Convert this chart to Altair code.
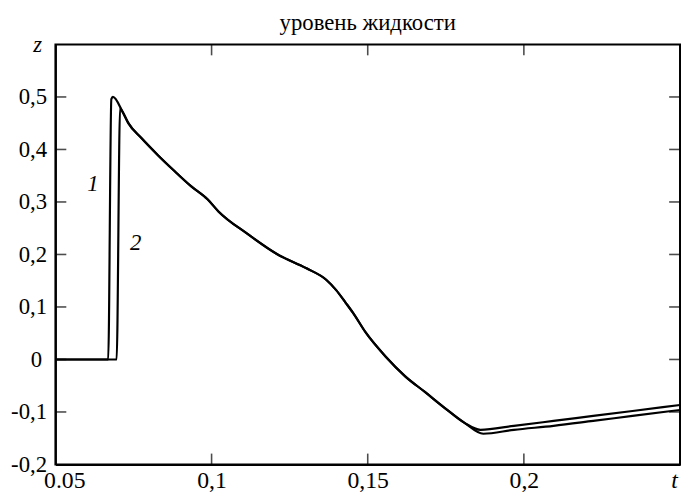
import altair as alt
import pandas as pd

# ---- data ----
t1 = [0.05, 0.0669, 0.0679, 0.0684, 0.0715, 0.0734, 0.0776, 0.0829, 0.0882, 0.0934,
      0.0987, 0.1022, 0.1114, 0.1209, 0.1304, 0.1367, 0.1399, 0.1430, 0.1453, 0.1494,
      0.1557, 0.1620, 0.1684, 0.1747, 0.1810, 0.1861, 0.1968, 0.2095, 0.2222, 0.2348, 0.2500]
z1 = [0.0, 0.0, 0.496, 0.500, 0.4717, 0.4496, 0.4213, 0.3887, 0.3585, 0.3302,
      0.3051, 0.2820, 0.2396, 0.2009, 0.1736, 0.1519, 0.1321, 0.1075, 0.0887, 0.0509,
      0.0057, -0.0321, -0.0623, -0.0925, -0.1208, -0.1340, -0.1264, -0.1170, -0.1075, -0.0981, -0.0868]

t2 = [0.05, 0.0696, 0.0707, 0.0715, 0.0734, 0.0776, 0.0829, 0.0882, 0.0934,
      0.0987, 0.1022, 0.1114, 0.1209, 0.1304, 0.1367, 0.1399, 0.1430, 0.1453, 0.1494,
      0.1557, 0.1620, 0.1684, 0.1747, 0.1810, 0.1870, 0.1968, 0.2095, 0.2222, 0.2348, 0.2500]
z2 = [0.0, 0.0, 0.479, 0.4717, 0.4496, 0.4213, 0.3887, 0.3585, 0.3302,
      0.3051, 0.2820, 0.2396, 0.2009, 0.1736, 0.1519, 0.1321, 0.1075, 0.0887, 0.0509,
      0.0057, -0.0321, -0.0623, -0.0925, -0.1208, -0.1415, -0.1340, -0.1264, -0.1170, -0.1075, -0.0962]

curve_names = ["1", "2"]
curve_label_t = [0.0620, 0.0757]
curve_label_z = [0.334, 0.2226]

x_ticks = [0.05, 0.1, 0.15, 0.2, 0.25]
x_tick_labels = ["0.05", "0,1", "0,15", "0,2", "t"]
y_ticks = [-0.2, -0.1, 0.0, 0.1, 0.2, 0.3, 0.4, 0.5, 0.6]
y_tick_labels = ["-0,2", "-0,1", "0", "0,1", "0,2", "0,3", "0,4", "0,5", "z"]
inner_x_ticks = [0.1, 0.15, 0.2]
inner_y_ticks = [-0.1, 0.0, 0.1, 0.2, 0.3, 0.4, 0.5]

title_text = "уровень жидкости"

FONT = "Liberation Serif"


def label_expr(vals, labs):
    expr = "''"
    for v, l in zip(reversed(vals), reversed(labs)):
        expr = f"(abs(datum.value - ({v})) < 1e-9) ? '{l}' : ({expr})"
    return expr


def is_val(v):
    return f"abs(datum.value - ({v})) < 1e-9"


lines = pd.concat([
    pd.DataFrame({"t": t1, "z": z1, "s": curve_names[0], "o": range(len(t1))}),
    pd.DataFrame({"t": t2, "z": z2, "s": curve_names[1], "o": range(len(t2))}),
])
labels_df = pd.DataFrame({"t": curve_label_t, "z": curve_label_z, "s": curve_names})
bx = pd.DataFrame({"t": inner_x_ticks, "lo": [-0.2] * len(inner_x_ticks), "hi": [0.6] * len(inner_x_ticks)})
by = pd.DataFrame({"z": inner_y_ticks, "lo": [0.05] * len(inner_y_ticks), "hi": [0.25] * len(inner_y_ticks)})

xscale = alt.Scale(domain=[0.05, 0.25], nice=False, zero=False)
yscale = alt.Scale(domain=[-0.2, 0.6], nice=False, zero=False)

xaxis = alt.Axis(
    values=x_ticks, labelExpr=label_expr(x_ticks, x_tick_labels), title=None,
    ticks=False, grid=False, domain=True, domainColor="black", domainWidth=2,
    labelFont=FONT, labelFontSize=24,
    labelColor="black", labelPadding=4, labelFlush=False, labelOverlap=False,
    labelFontStyle={"condition": {"test": is_val(0.25), "value": "italic"}, "value": "normal"},
    labelOffset={"condition": [{"test": is_val(0.25), "value": -6},
                               {"test": is_val(0.05), "value": 9}], "value": 0},
)
yaxis = alt.Axis(
    values=y_ticks, labelExpr=label_expr(y_ticks, y_tick_labels), title=None,
    ticks=False, grid=False, domain=True, domainColor="black", domainWidth=2,
    labelFont=FONT, labelFontSize=23,
    labelColor="black", labelFlush=False, labelOverlap=False,
    labelPadding={"condition": [{"test": is_val(0.6), "value": 14},
                                {"test": is_val(0.0), "value": 14}], "value": 9},
    labelFontStyle={"condition": {"test": is_val(0.6), "value": "italic"}, "value": "normal"},
)

base_lines = alt.Chart(lines).mark_line(color="black", strokeWidth=2.2, interpolate="monotone").encode(
    x=alt.X("t:Q", scale=xscale, axis=xaxis),
    y=alt.Y("z:Q", scale=yscale, axis=yaxis),
    detail="s:N",
    order="o:Q",
)

curve_text = alt.Chart(labels_df).mark_text(
    font=FONT, fontSize=23, fontStyle="italic", color="black"
).encode(x=alt.X("t:Q", scale=xscale), y=alt.Y("z:Q", scale=yscale), text="s:N")

tick_b = alt.Chart(bx).mark_tick(orient="vertical", size=11, thickness=1.6, yOffset=-5.5, color="black").encode(
    x=alt.X("t:Q", scale=xscale), y=alt.Y("lo:Q", scale=yscale))
tick_t = alt.Chart(bx).mark_tick(orient="vertical", size=11, thickness=1.6, yOffset=5.5, color="black").encode(
    x=alt.X("t:Q", scale=xscale), y=alt.Y("hi:Q", scale=yscale))
tick_l = alt.Chart(by).mark_tick(orient="horizontal", size=11, thickness=1.6, xOffset=5.5, color="black").encode(
    x=alt.X("lo:Q", scale=xscale), y=alt.Y("z:Q", scale=yscale))
tick_r = alt.Chart(by).mark_tick(orient="horizontal", size=11, thickness=1.6, xOffset=-5.5, color="black").encode(
    x=alt.X("hi:Q", scale=xscale), y=alt.Y("z:Q", scale=yscale))

chart = alt.layer(base_lines, curve_text, tick_b, tick_t, tick_l, tick_r).properties(
    width=632, height=425,
    background="white",
    title=alt.TitleParams(title_text, font=FONT, fontSize=23, fontWeight="normal", color="black", offset=-1),
    autosize=alt.AutoSizeParams(type="none"),
    padding={"left": 48, "top": 34, "right": 1, "bottom": 28},
).configure(font=FONT).configure_view(stroke="black", strokeWidth=2)

chart.save("out.html", embed_options={"renderer": "svg", "actions": False})
